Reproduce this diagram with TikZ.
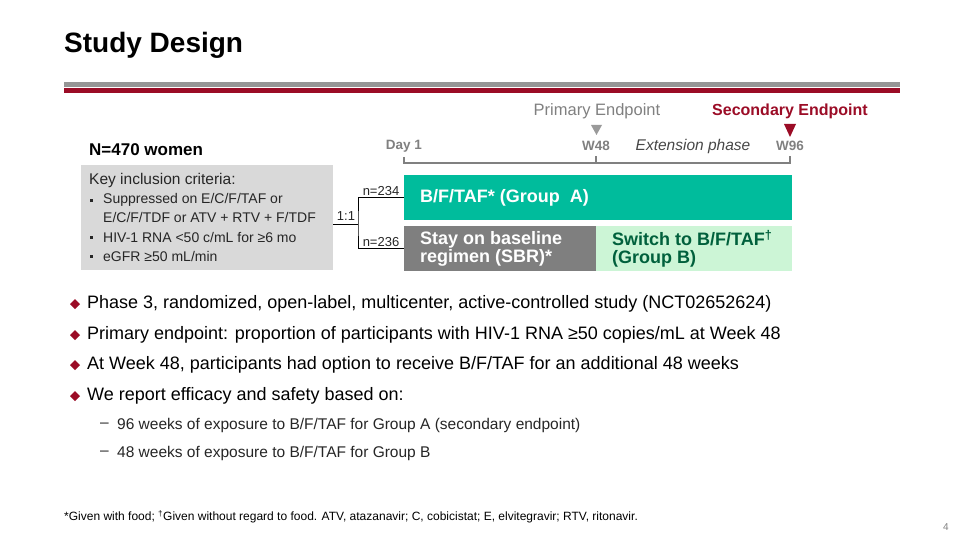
\documentclass[tikz,border=0pt]{standalone}
\usepackage{fontspec}
\setmainfont{Liberation Sans}
\usetikzlibrary{calc,positioning,shapes.geometric}
\definecolor{darkred}{RGB}{155,12,38}
\definecolor{rulegray}{RGB}{150,150,150}
\definecolor{tealbar}{RGB}{0,188,156}
\definecolor{sbrgray}{RGB}{127,127,127}
\definecolor{lightgreen}{RGB}{204,245,214}
\definecolor{switchgreen}{RGB}{0,96,60}
\definecolor{critgray}{RGB}{217,217,217}
\definecolor{textgray}{RGB}{128,128,128}
\definecolor{bodytext}{RGB}{38,38,38}
\tikzset{
  fs/.style={font=\fontsize{#1}{#1}\selectfont},
  bfs/.style={font=\fontsize{#1}{#1}\selectfont\bfseries},
  ifs/.style={font=\fontsize{#1}{#1}\selectfont\itshape},
  txt/.style={anchor=west,inner sep=0,text=bodytext},
  bar/.style={anchor=north west,inner sep=0,minimum height=45},
  bartext/.style={anchor=west,inner sep=0,align=left,bfs=18},
  tick/.style={draw=textgray,line width=2pt},
  split/.style={draw=black,line width=0.8pt}
}

\begin{document}
\begin{tikzpicture}[x=1pt,y=-1pt]
    \useasboundingbox (0,0) rectangle (960,540);
    % title and rules
    \node[txt,bfs=28,text=black] (title) at (64,45) {Study Design};
    \fill[rulegray] (64,82) rectangle (900,87);
    \fill[darkred] (64,88) rectangle (900,93);

    % endpoints
    \node[fs=16.5,text=textgray] (prim) at (597,111) {Primary Endpoint};
    \node[bfs=16,text=darkred] (sec) at (790,111) {Secondary Endpoint};
    \fill[textgray!80] (591,125) -- (602,125) -- (596.5,135) -- cycle;
    \fill[darkred] (784,124) -- (796,124) -- (790,137) -- cycle;

    % timeline
    \coordinate (d1) at (404,163);
    \coordinate (w48) at (596,163);
    \coordinate (w96) at (790,163);
    \node[bfs=13.5,text=textgray] (day1) at (404,146) {Day 1};
    \node[bfs=13.5,text=textgray] (w48t) at (596,146) {W48};
    \node[ifs=15.5,text=bodytext!85] (ext) at (693,146) {Extension phase};
    \node[bfs=13.5,text=textgray] (w96t) at (790,146) {W96};
    \draw[tick] ($(d1)+(0,-6)$) -- (d1) -- (w96) -- ++(0,-7);
    \draw[tick] (w48) -- ++(0,-7);

    % population
    \node[txt,bfs=17,text=black] (pop) at (89,150) {N=470 women};
    \node[fill=critgray,anchor=north west,inner sep=0,minimum width=252,minimum height=105] (crit) at (81,165) {};
    \node[txt,fs=15.5] (crithead) at (89,180) {Key inclusion criteria:};
    \foreach \y/\t in {200/{Suppressed on E/C/F/TAF or},237/{HIV-1 RNA <50 c/mL for ≥6 mo},256/{eGFR ≥50 mL/min}} {
        \fill[bodytext] (89.5,\y-1.5) rectangle ++(3,3);
        \node[txt,fs=14] at (103,\y) {\t};
      }
    \node[txt,fs=14] (critcont) at (103,217) {E/C/F/TDF or ATV + RTV + F/TDF};

    % arms
    \node[bar,fill=tealbar,minimum width=388] (grpA) at (404,175) {};
    \node[bar,fill=sbrgray,minimum width=192] (sbr) at (404,226) {};
    \node[bar,fill=lightgreen,minimum width=196] (grpB) at (596,226) {};
    \node[bartext,text=white] (grpAt) at (420,197.5) {B/F/TAF* (Group\ \ A)};
    \node[bartext,text=white] (sbrt) at (420,249) {Stay on baseline\\regimen (SBR)*};
    \node[bartext,text=switchgreen] (grpBt) at (612,249) {Switch to B/F/TAF\textsuperscript{†}\\(Group B)};

    % randomisation
    \coordinate (rand) at (358,224);
    \draw[split] (crit.east |- rand) -- (rand);
    \draw[split] (grpA.west) -| (rand) |- (sbr.west);
    \node[fs=13,text=bodytext,anchor=south,inner sep=1.5] (nA) at (381,197.5) {n=234};
    \node[fs=13,text=bodytext,anchor=south,inner sep=1.5] (nB) at (381,248) {n=236};
    \node[fs=13,text=bodytext,anchor=south,inner sep=1.5] (ratio) at (346,222) {1:1};

    % bullets
    \foreach \y/\t in {304/{Phase 3, randomized, open-label, multicenter, active-controlled study (NCT02652624)},
                       335/{Primary endpoint: proportion of participants with HIV-1 RNA ≥50 copies/mL at Week 48},
                       365/{At Week 48, participants had option to receive B/F/TAF for an additional 48 weeks},
                       396/{We report efficacy and safety based on:}} {
        \fill[darkred] (75,\y-5) -- (80,\y) -- (75,\y+5) -- (70,\y) -- cycle;
        \node[txt,fs=18,text=black] at (87,\y) {\t};
      }
    \foreach \y/\t in {425/{96 weeks of exposure to B/F/TAF for Group A (secondary endpoint)},
                       453/{48 weeks of exposure to B/F/TAF for Group B}} {
        \node[txt,fs=15.5] at (100,\y) {–};
        \node[txt,fs=15.5] at (117,\y) {\t};
      }

    % footnote and page number
    \node[txt,fs=12,text=black] (foot) at (64,517) {*Given with food; \textsuperscript{†}Given without regard to food. ATV, atazanavir; C, cobicistat; E, elvitegravir; RTV, ritonavir.};
    \node[txt,fs=10,text=textgray] (page) at (943,527) {4};
  \end{tikzpicture}
\end{document}
